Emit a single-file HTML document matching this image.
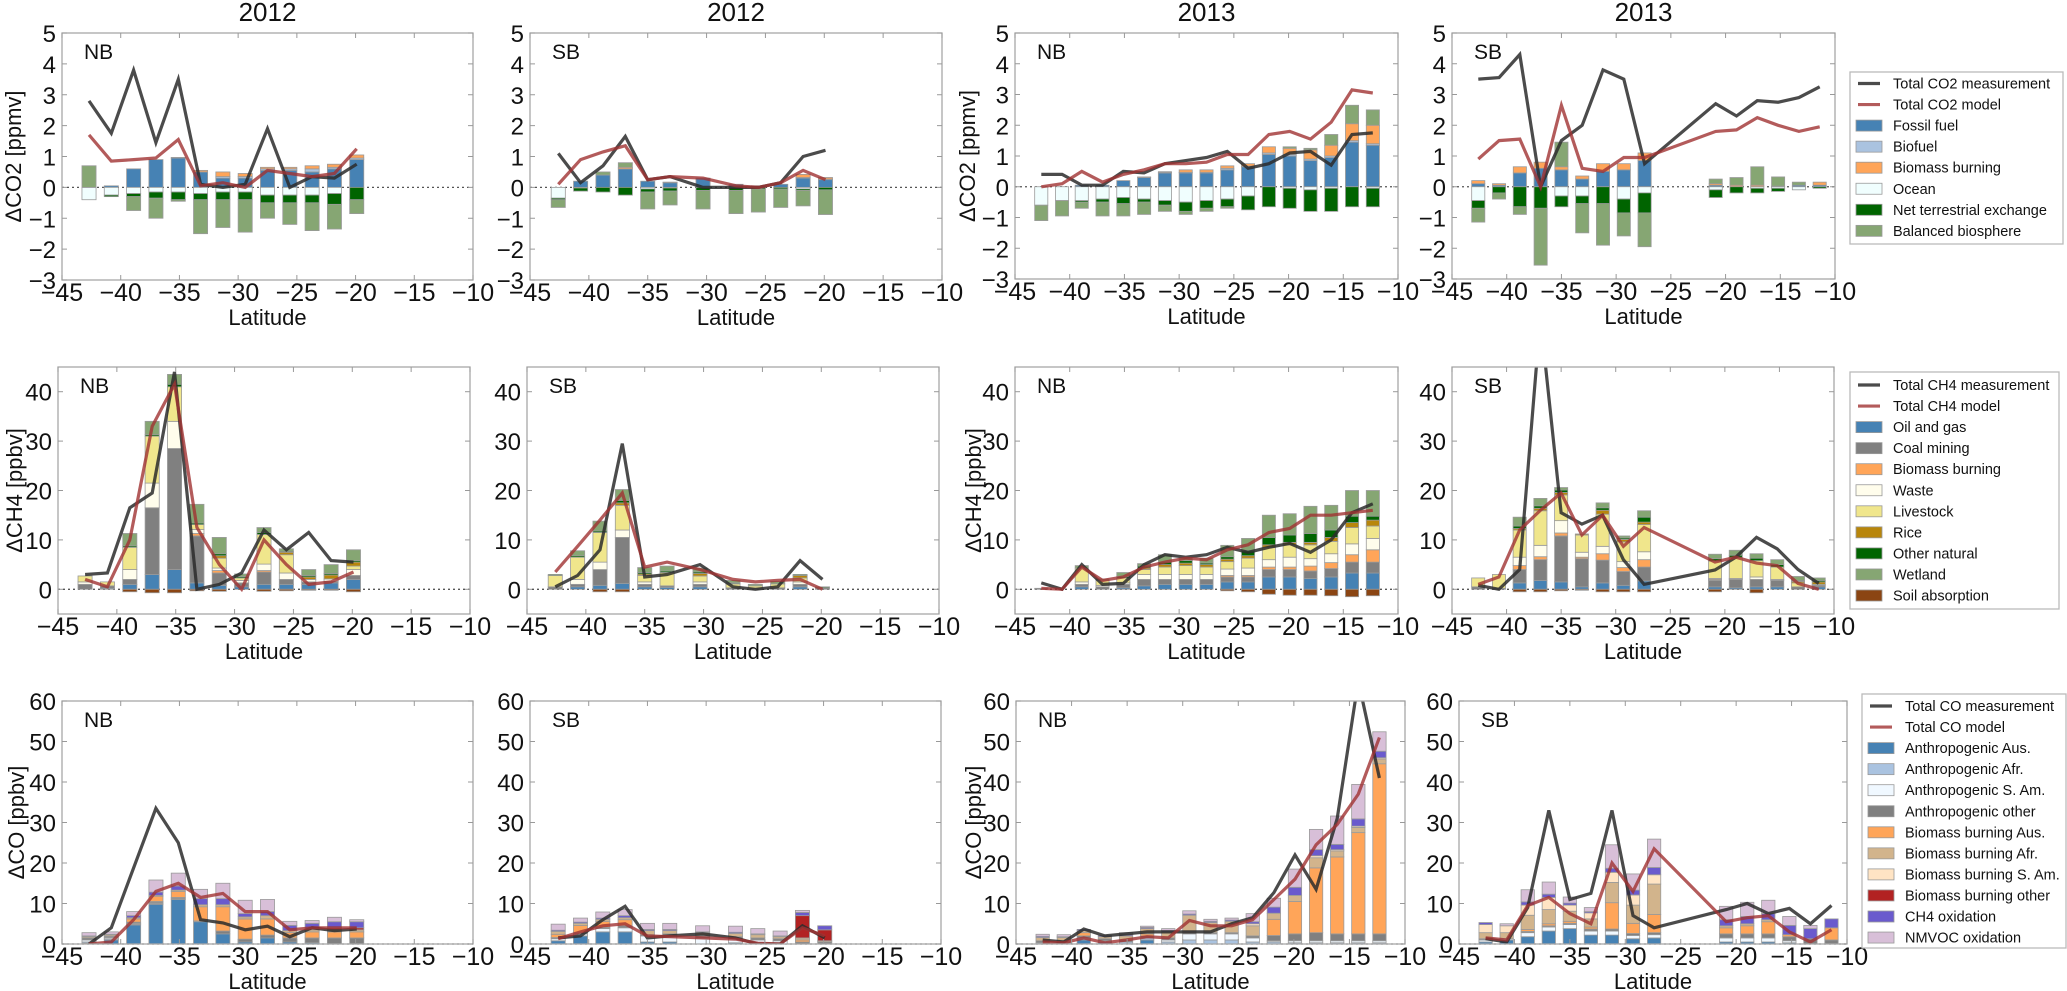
<!DOCTYPE html>
<html><head><meta charset="utf-8"><style>
html,body{margin:0;padding:0;background:#fff;}
svg{display:block;font-family:"Liberation Sans","DejaVu Sans",sans-serif;}
</style></head><body>
<svg id="fig" width="2067" height="991" viewBox="0 0 2067 991" xmlns="http://www.w3.org/2000/svg"></svg>
<script>
// ---- latitude bins ----
const latA = [-42.7,-40.8,-38.9,-37.0,-35.1,-33.2,-31.3,-29.4,-27.5,-25.6,-23.7,-21.8,-19.9];
const latB = [-42.6,-40.7,-38.8,-36.9,-35.0,-33.1,-30.3,-27.5,-25.6,-23.7,-21.8,-19.9];
const latC = [-42.6,-40.7,-38.9,-37.0,-35.1,-33.2,-31.3,-29.4,-27.5,-25.6,-23.7,-21.8,-19.9,-18.0,-16.1,-14.2,-12.3];
const latD = [-42.6,-40.7,-38.8,-36.9,-35.0,-33.1,-31.2,-29.3,-27.4,-20.9,-19.0,-17.1,-15.2,-13.3,-11.4];
const xTicks = [-45,-40,-35,-30,-25,-20,-15,-10];
const yTicksCO2 = [-3,-2,-1,0,1,2,3,4,5];
const yTicksCH4 = [0,10,20,30,40];
const yTicksCO = [0,10,20,30,40,50,60];

// ---- CO2 2012 NB ----
const co2a_meas = [2.8,1.75,3.8,1.45,3.5,0.1,0,0.1,1.9,0,0.35,0.3,0.75];
const co2a_model = [1.7,0.85,0.9,0.95,1.55,0.05,0.15,0,0.55,0.45,0.35,0.45,1.25];
const co2a_fossil = [0,0.05,0.6,0.9,0.95,0.5,0.3,0.3,0.55,0.55,0.5,0.6,0.9];
const co2a_biofuel = [0,0,0,0,0,0,0.05,0.05,0.05,0.05,0.1,0.05,0.05];
const co2a_biomass = [0,0,0,0,0.02,0.05,0.15,0.1,0.05,0.05,0.1,0.1,0.1];
const co2a_ocean = [-0.4,-0.25,-0.2,-0.15,-0.15,-0.2,-0.15,-0.15,-0.25,-0.25,-0.25,-0.2,0];
const co2a_nte = [0,-0.05,-0.1,-0.2,-0.25,-0.2,-0.25,-0.25,-0.25,-0.25,-0.25,-0.35,-0.4];
const co2a_bal = [0.7,0,-0.45,-0.65,-0.05,-1.1,-0.9,-1.05,-0.5,-0.7,-0.9,-0.8,-0.45];
// ---- CO2 2012 SB ----
const co2b_meas = [1.1,0.15,0.7,1.65,0.25,0.35,0,0,0,0.15,1.0,1.2];
const co2b_model = [0.1,0.9,1.15,1.35,0.25,0.35,0.3,0.05,0,0.15,0.55,0.25];
const co2b_fossil = [0,0.2,0.4,0.6,0.2,0.15,0.3,0.1,0.05,0.1,0.3,0.25];
const co2b_biofuel = [0,0,0,0,0,0,0,0,0,0,0.02,0.02];
const co2b_biomass = [0,0,0,0.05,0,0.02,0,0,0,0,0.1,0.05];
const co2b_ocean = [-0.35,-0.02,0,0,-0.05,-0.02,0,0,0,0,-0.05,0];
const co2b_nte = [-0.05,-0.1,-0.15,-0.25,-0.1,-0.1,-0.1,-0.1,-0.05,-0.05,-0.05,-0.08];
const co2b_bal = [-0.25,0,0.1,0.15,-0.55,-0.45,-0.6,-0.75,-0.75,-0.6,-0.5,-0.8];
// ---- CO2 2013 NB ----
const co2c_meas = [0.4,0.4,0.05,0.05,0.5,0.45,0.75,0.85,0.95,1.15,0.6,0.75,1.1,1.15,0.7,1.7,1.75];
const co2c_model = [0,0.1,0.5,0.15,0.4,0.55,0.75,0.75,0.8,1.05,1.05,1.7,1.8,1.55,2.1,3.15,3.05];
const co2c_fossil = [0,0,0.05,0.05,0.2,0.3,0.45,0.45,0.45,0.55,0.65,1.05,1.0,0.85,0.95,1.45,1.35];
const co2c_biofuel = [0,0,0,0,0,0.02,0.02,0.02,0.02,0.05,0.02,0.05,0.05,0.05,0.05,0.05,0.05];
const co2c_biomass = [0,0,0,0,0,0,0.02,0.08,0.08,0.08,0.08,0.2,0.2,0.3,0.35,0.55,0.6];
const co2c_ocean = [-0.6,-0.45,-0.45,-0.4,-0.35,-0.4,-0.45,-0.5,-0.45,-0.4,-0.3,0,-0.05,-0.1,-0.05,0,-0.05];
const co2c_nte = [0,0,-0.05,-0.1,-0.2,-0.1,-0.15,-0.3,-0.25,-0.25,-0.45,-0.65,-0.65,-0.7,-0.75,-0.65,-0.6];
const co2c_bal = [-0.5,-0.5,-0.2,-0.45,-0.4,-0.4,-0.2,-0.1,-0.1,-0.05,0,0,0.05,0.05,0.35,0.6,0.5];
// ---- CO2 2013 SB ----
const co2d_meas = [3.5,3.55,4.3,0,1.5,2.0,3.8,3.5,0.75,2.7,2.3,2.8,2.75,2.9,3.25];
const co2d_model = [0.9,1.5,1.55,0,2.65,0.6,0.5,0.95,0.95,1.8,1.85,2.25,2.0,1.8,1.95];
const co2d_fossil = [0.1,0.05,0.45,0.6,0.55,0.25,0.5,0.55,0.85,0.05,0,0,0,0.05,0.05];
const co2d_biofuel = [0,0,0,0,0,0,0,0,0,0,0,0,0,0,0];
const co2d_biomass = [0.1,0.05,0.2,0.2,0.1,0.1,0.25,0.2,0.25,0.05,0.05,0.05,0.02,0,0.1];
const co2d_ocean = [-0.45,0,0,0,-0.3,-0.3,0,-0.4,-0.2,-0.1,0,-0.05,-0.05,-0.1,0];
const co2d_nte = [-0.25,-0.2,-0.65,-0.7,-0.35,-0.25,-0.55,-0.45,-0.65,-0.25,-0.2,-0.15,-0.1,0,-0.05];
const co2d_bal = [-0.45,-0.2,-0.25,-1.85,0.8,-0.95,-1.35,-0.75,-1.1,0.15,0.25,0.6,0.3,0.1,0];

// ---- CH4 2012 NB ----
const ch4a_meas = [3,3.3,16.5,19.5,44,0,1,3.3,12,8,11.5,5.8,5.5];
const ch4a_model = [2,0.5,10,33,41.5,12.5,5,0,10,5,1,1.5,3.5];
const ch4a_oil = [0,0.2,1,3,4,1.3,0.8,0.5,1,1,1,1.3,2];
const ch4a_coal = [1,0.5,1,13.5,24.5,9.5,2.5,0.8,2.5,1,0.5,0.3,0.8];
const ch4a_bb = [0,0,0,0,0,0.5,0.5,0,0.3,0,0,0,0];
const ch4a_waste = [0.5,0,2,5,5.5,0.8,0.5,0.5,1.3,1.3,0.5,0.5,1.2];
const ch4a_live = [1.2,0.8,4.5,9.5,7,1,2,0.5,6,3.7,0,0,0.7];
const ch4a_rice = [0,0,0,0,0,0,0.5,0,0,0.5,0.5,0.8,0.8];
const ch4a_other = [0,0,0.3,0.3,0.5,0.3,0.4,0.3,0.4,0.2,0.3,0.3,0.3];
const ch4a_wet = [0,0,2.5,2.7,2,3.8,3.3,0.5,1,0.5,1.2,1.8,2.2];
const ch4a_soil = [0,0,-0.5,-0.7,-0.7,-0.3,-0.4,0,-0.4,-0.3,-0.2,-0.2,-0.5];
// ---- CH4 2012 SB ----
const ch4b_meas = [0.5,2.8,8,29.5,2.5,3,5,0.5,0,0.5,5.8,2];
const ch4b_model = [3.5,8.7,14,19.5,4.5,5.5,4,2,1.5,1.8,2,0];
const ch4b_oil = [0,0.5,0.8,1.2,0.5,0.4,0.5,0,0,0,0.5,0];
const ch4b_coal = [0.5,0.5,3.2,9.3,0.5,0.3,0.5,0.3,0.2,0.3,0.5,0.3];
const ch4b_bb = [0,0,0,0,0,0,0,0,0,0,0,0];
const ch4b_waste = [0,1,1.5,1.5,0.5,0,0.5,0,0,0,0.5,0];
const ch4b_live = [2.3,4.5,6,5,1.3,2.7,1.2,0.8,0.5,0.8,0.8,0];
const ch4b_rice = [0,0,0,0.5,0.3,0,0.5,0,0,0,0.5,0];
const ch4b_other = [0.2,0.3,0.3,0.5,0.3,0.3,0.3,0.2,0,0,0.2,0.2];
const ch4b_wet = [0,1,2,2.2,1,1,0.8,0.5,0.3,0.5,0,0];
const ch4b_soil = [0,0,-0.5,-0.5,0,0,0,0,0,0,0,0];
// ---- CH4 2013 NB ----
const ch4c_meas = [1.3,0,5,1,1.2,5,7,6.5,7,8.5,7.5,8.5,9.3,7.5,10,15.5,17.3];
const ch4c_model = [0.2,0,4.5,1.8,2.5,4.5,5.5,6.3,6,8,9,11.5,12.3,15,15,15.5,16];
const ch4c_oil = [0,0,0.5,0,0.3,0.7,1,1,1,1.5,1.5,2.5,2.5,2.2,2.5,3.3,3.3];
const ch4c_coal = [0.2,0,0.5,0.5,0.7,1.3,1,1,1,1,1,1.5,1.5,1.5,1.7,2.2,2.2];
const ch4c_bb = [0,0,0,0,0,0,0,0,0,0.3,0.3,0.5,0.5,1,1.2,1.5,2.5];
const ch4c_waste = [0,0,0.5,0.3,0.3,1,1,1,1,1.3,1.5,1.5,2,1.5,1.8,2.2,2.3];
const ch4c_live = [0,0,2.8,1,1,1,1.5,1.8,1.5,1.5,2,2.5,2.5,2.8,2.5,3.3,2.5];
const ch4c_rice = [0,0,0,0,0,0.3,0.5,0.5,0.5,0.5,0.5,0.5,0.5,0.5,0.8,1,1.2];
const ch4c_other = [0,0,0,0,0.3,0.4,0.5,0.5,0.3,0.5,1,1.5,1.5,1.8,1.5,1.3,0.8];
const ch4c_wet = [0,0,0.5,0.3,0.8,0.5,1.5,0.5,1,2.3,2.5,4.5,4.3,5.5,5,5.2,5.2];
const ch4c_soil = [0,0,0,0,0,0,0,0,0,-0.3,-0.5,-1,-1.2,-1.2,-1.3,-1.5,-1.3];
// ---- CH4 2013 SB ----
const ch4d_meas = [0.8,0,4,55,15.5,13.2,15,6,1,3.9,6.5,10.5,8.2,4,1.2];
const ch4d_model = [1,2.5,12,16,19.5,11,15,8.7,12.5,5.5,6.5,5.3,4.8,1.2,0];
const ch4d_oil = [0,0,1.3,1.8,1.5,0.5,1.3,0.8,1.7,0.5,0.3,0.5,0.5,0,0.5];
const ch4d_coal = [0.5,0.2,2.7,4.2,9.3,5.7,4.6,2.8,2.8,1.3,1.7,1.5,1.3,0.5,0.3];
const ch4d_bb = [0,0,0.8,0.6,0.6,0.3,1.3,0.8,1.5,0.2,0,0,0,0,0];
const ch4d_waste = [0,0,1.7,2.3,2.5,1,1.5,1.2,1.6,0.2,0.2,0.5,0.2,0,0];
const ch4d_live = [1.8,2.8,5.5,7,5.2,3.5,6.5,4,5.5,3.5,4.2,3.3,2.5,0.8,0.2];
const ch4d_rice = [0,0,0.3,0.5,0.5,0.2,0.8,0.5,0.5,0,0,0,0,0.3,0.5];
const ch4d_other = [0,0,0.5,0.5,0.5,0,0.5,0.3,1,0.5,0.5,0.5,0.5,0.2,0.3];
const ch4d_wet = [0,0,1.8,1.5,0.5,0,1,0.4,1.3,0.9,1,0.9,1,0.8,0.5];
const ch4d_soil = [0,0,-0.5,-0.5,-0.3,-0.2,-0.5,-0.5,-0.5,-0.5,0,-0.7,0,0,0];

// ---- CO 2012 NB ----
const coa_meas = [0,4,18.8,33.5,25,6,5.2,3.5,4.4,1.8,4,3.3,3.7];
const coa_model = [0,0.5,6,13,15,11.5,12.5,8,8,3.5,4,4,4];
const coa_aus = [0.2,1,4.7,9.8,11,5.5,2.5,0.5,1.5,0.5,0.3,0,0];
const coa_afr = [0.3,0.3,0.2,0.2,0,0,0,0,0,0,0,0,0];
const coa_sam = [0.5,0.3,0.2,0.2,0.2,0,0,0,0,0,0,0,0];
const coa_oth = [0.5,0.3,0.3,0.3,0.3,0.2,0.7,0.7,0.7,1,1.2,1.5,1.5];
const coa_bbaus = [0,0,0.8,1.3,1.5,3.5,6,5,4,1.3,1.5,1.5,1.5];
const coa_bbafr = [0.3,0.3,0.3,0.2,0.3,0.5,0.5,0.5,0.8,0.5,0.5,0.5,0.5];
const coa_bbsam = [0,0,0,0,0,0,0,0,0,0,0,0,0];
const coa_bboth = [0,0,0,0,0,0,0,0,0,0,0.3,0.5,0.5];
const coa_ch4 = [0.2,0.2,0.5,0.8,1,1.5,1.5,0.8,1,1.3,1.3,1.5,1.5];
const coa_nmvoc = [0.8,0.6,1,3,3.2,2.3,3.8,3.3,3,1,0.7,1.1,0.5];
// ---- CO 2012 SB ----
const cob_meas = [1.5,2,6,9.3,1.5,2,2.5,1.5,0,0,4.5,1.5];
const cob_model = [1.3,3,4.5,5,2,1.8,1.5,1.2,0.2,0,4,2];
const cob_aus = [0.8,2,3,3,0.5,0.5,0,0.3,0,0,0,0];
const cob_afr = [0,0,0,0,0,0,0,0,0,0,0,0];
const cob_sam = [0.5,0.5,0.8,1,1.5,1.5,1.5,1,1,0.8,0,0];
const cob_oth = [0.3,0.3,0.3,0.5,0.3,0.5,0.5,0.5,0.5,0.5,0.5,0.5];
const cob_bbaus = [0.8,1.8,1.5,1.5,0,0,0,0,0,0,0.5,0];
const cob_bbafr = [0.7,0.5,0.5,0.5,1,0.8,0.8,0.8,0.8,0.5,0.5,0.3];
const cob_bbsam = [0,0,0,0,0,0,0,0,0,0,0,0];
const cob_bboth = [0,0,0,0,0,0,0,0,0,0,5.5,2.7];
const cob_ch4 = [0.3,0.3,0.3,0.5,0.3,0.3,0.2,0.3,0.2,0.2,0.8,1];
const cob_nmvoc = [1.5,1,1.5,1.5,1.5,1.5,1.5,1.5,1.3,1.2,0.5,0];
// ---- CO 2013 NB ----
const coc_meas = [1,0.5,3.7,2,2.5,3,3,3,3,5,6.5,12.7,22,13.5,31,65,41];
const coc_model = [0.5,0.3,1.5,0.3,1,1.8,1.5,5.8,4.5,4.5,6,11,16,24.5,29.5,37,51];
const coc_aus = [0,0,1,0.5,0,1,0,0,0,0,0,0,0,0,0,0,0];
const coc_afr = [0.3,0.3,0.5,0.3,0.5,0.5,0.5,1,1,1,0.5,0.5,0.3,0.3,0.3,0.3,0.3];
const coc_sam = [0,0,0,0,0,0,0.5,1.5,1.5,1.5,1,0.3,0.5,0.5,0.5,0.5,0.5];
const coc_oth = [0.5,0.5,0.5,0.5,0.5,0.5,0.5,0.3,0.3,0.3,0.5,1.3,1.7,2,1.7,1.7,1.7];
const coc_bbaus = [0,0,0.8,0,0,0.5,0,0.3,0,0,0,4,8,16,19,25,42];
const coc_bbafr = [0.8,0.8,0.5,0.5,1,1.3,1.5,4,2.5,2.8,2.5,1.5,1.5,2.5,1.5,1.3,1.2];
const coc_bbsam = [0,0,0,0,0,0,0,0,0,0,0.5,0,0,0.5,0.3,0.3,0.3];
const coc_bboth = [0,0,0,0,0,0,0,0,0,0,0,0,0,0,0,0,0];
const coc_ch4 = [0.3,0.2,0.3,0.3,0.3,0.3,0.3,0.3,0.3,0.3,0.5,1.5,2,1.5,1.3,1.8,1.6];
const coc_nmvoc = [0.5,0.5,0,0,0.5,0.3,0.5,0.8,0.5,0.5,2,2.2,4.5,5,7,8.5,4.8];
// ---- CO 2013 SB ----
const cod_meas = [1.3,0.5,9,33,11,12.5,33,7,4,8.5,10,7.5,8.8,5,9.5];
const cod_model = [1.5,1,9.5,11.5,7.5,5,20,13,23.5,5.5,6.5,7,3,0.5,3.5];
const cod_aus = [0.5,1,1.8,3.2,3.8,2.2,2.2,1.3,1.5,0.5,0.5,0.5,0.3,0,0];
const cod_afr = [0,0,0,0,0,0,0,0,0,0,0,0,0,0,0];
const cod_sam = [0.5,0.3,1,1,1,1,1,0.8,0.8,1,1,1,0.5,0,0];
const cod_oth = [0.3,0,0.3,0.3,0.3,0.5,0.5,0.5,0.5,1,1,1,1,1.3,1];
const cod_bbaus = [0,0,0.5,0.5,0.5,0.5,6.5,2.5,4.5,1.5,2,3,0.5,0,3];
const cod_bbafr = [1.5,1.5,3.5,3.5,2.5,2,5,4.5,7.5,0.5,0.5,0.5,0,0,0];
const cod_bbsam = [2,1.7,2.5,3,1.5,1.5,2.5,2.5,2.3,0,0,0,0,0,0];
const cod_bboth = [0,0,0,0,0,0,0,0,0,0,0,0,0,0,0];
const cod_ch4 = [0.5,0,0.8,0.8,0.5,0.3,1,1.2,1.8,1.5,1.8,1.5,2.3,2.5,2.2];
const cod_nmvoc = [0,0.5,3,3,1.5,1,5.8,4,7,3.3,3.5,3.3,2.2,0.8,0];

// ---- legend names & colours ----
const co2Names = ["Fossil fuel","Biofuel","Biomass burning","Ocean","Net terrestrial exchange","Balanced biosphere"];
const co2Cols = ["#4682b4","#aac3e0","#ffa559","#f0fefe","#006400","#86a673"];
const ch4Names = ["Oil and gas","Coal mining","Biomass burning","Waste","Livestock","Rice","Other natural","Wetland","Soil absorption"];
const ch4Cols = ["#4682b4","#808080","#ffa559","#fffdec","#f0e68c","#b8860b","#006400","#86a673","#8b4513"];
const coNames = ["Anthropogenic Aus.","Anthropogenic Afr.","Anthropogenic S. Am.","Anthropogenic  other","Biomass burning Aus.","Biomass burning Afr.","Biomass burning S. Am.","Biomass burning  other","CH4 oxidation","NMVOC oxidation"];
const coCols = ["#4682b4","#aac3e0","#f0f8ff","#808080","#ffa559","#d2b48c","#ffe4c4","#b22222","#6a5acd","#d8bfd8"];

const NS = "http://www.w3.org/2000/svg";
const svg = document.getElementById("fig");
function mk(tag, attrs, parent){ const e=document.createElementNS(NS,tag); for(const k in attrs) e.setAttribute(k,attrs[k]); (parent||svg).appendChild(e); return e; }

const panels = [
 {name:"co2-2012-nb",L:62,R:473,T:33,B:280,ymin:-3,ymax:5,yt:yTicksCO2,lat:latA,meas:co2a_meas,model:co2a_model,comps:[co2a_fossil,co2a_biofuel,co2a_biomass,co2a_ocean,co2a_nte,co2a_bal],cols:co2Cols,tag:"NB",ylab:"ΔCO2 [ppmv]",labx:13,title:"2012"},
 {name:"co2-2012-sb",L:530,R:942,T:33,B:280,ymin:-3,ymax:5,yt:yTicksCO2,lat:latB,meas:co2b_meas,model:co2b_model,comps:[co2b_fossil,co2b_biofuel,co2b_biomass,co2b_ocean,co2b_nte,co2b_bal],cols:co2Cols,tag:"SB",title:"2012"},
 {name:"co2-2013-nb",L:1015,R:1398,T:33,B:279,ymin:-3,ymax:5,yt:yTicksCO2,lat:latC,meas:co2c_meas,model:co2c_model,comps:[co2c_fossil,co2c_biofuel,co2c_biomass,co2c_ocean,co2c_nte,co2c_bal],cols:co2Cols,tag:"NB",ylab:"ΔCO2 [ppmv]",labx:967,title:"2013"},
 {name:"co2-2013-sb",L:1452,R:1835,T:33,B:279,ymin:-3,ymax:5,yt:yTicksCO2,lat:latD,meas:co2d_meas,model:co2d_model,comps:[co2d_fossil,co2d_biofuel,co2d_biomass,co2d_ocean,co2d_nte,co2d_bal],cols:co2Cols,tag:"SB",title:"2013"},
 {name:"ch4-2012-nb",L:58,R:470,T:367,B:614,ymin:-5,ymax:45,yt:yTicksCH4,lat:latA,meas:ch4a_meas,model:ch4a_model,comps:[ch4a_oil,ch4a_coal,ch4a_bb,ch4a_waste,ch4a_live,ch4a_rice,ch4a_other,ch4a_wet,ch4a_soil],cols:ch4Cols,tag:"NB",ylab:"ΔCH4 [ppbv]",labx:14},
 {name:"ch4-2012-sb",L:527,R:939,T:367,B:614,ymin:-5,ymax:45,yt:yTicksCH4,lat:latB,meas:ch4b_meas,model:ch4b_model,comps:[ch4b_oil,ch4b_coal,ch4b_bb,ch4b_waste,ch4b_live,ch4b_rice,ch4b_other,ch4b_wet,ch4b_soil],cols:ch4Cols,tag:"SB"},
 {name:"ch4-2013-nb",L:1015,R:1398,T:367,B:614,ymin:-5,ymax:45,yt:yTicksCH4,lat:latC,meas:ch4c_meas,model:ch4c_model,comps:[ch4c_oil,ch4c_coal,ch4c_bb,ch4c_waste,ch4c_live,ch4c_rice,ch4c_other,ch4c_wet,ch4c_soil],cols:ch4Cols,tag:"NB",ylab:"ΔCH4 [ppbv]",labx:973},
 {name:"ch4-2013-sb",L:1452,R:1834,T:367,B:614,ymin:-5,ymax:45,yt:yTicksCH4,lat:latD,meas:ch4d_meas,model:ch4d_model,comps:[ch4d_oil,ch4d_coal,ch4d_bb,ch4d_waste,ch4d_live,ch4d_rice,ch4d_other,ch4d_wet,ch4d_soil],cols:ch4Cols,tag:"SB"},
 {name:"co-2012-nb",L:62,R:473,T:701,B:944,ymin:0,ymax:60,yt:yTicksCO,lat:latA,meas:coa_meas,model:coa_model,comps:[coa_aus,coa_afr,coa_sam,coa_oth,coa_bbaus,coa_bbafr,coa_bbsam,coa_bboth,coa_ch4,coa_nmvoc],cols:coCols,tag:"NB",ylab:"ΔCO [ppbv]",labx:16},
 {name:"co-2012-sb",L:530,R:941,T:701,B:944,ymin:0,ymax:60,yt:yTicksCO,lat:latB,meas:cob_meas,model:cob_model,comps:[cob_aus,cob_afr,cob_sam,cob_oth,cob_bbaus,cob_bbafr,cob_bbsam,cob_bboth,cob_ch4,cob_nmvoc],cols:coCols,tag:"SB"},
 {name:"co-2013-nb",L:1016,R:1405,T:701,B:944,ymin:0,ymax:60,yt:yTicksCO,lat:latC,meas:coc_meas,model:coc_model,comps:[coc_aus,coc_afr,coc_sam,coc_oth,coc_bbaus,coc_bbafr,coc_bbsam,coc_bboth,coc_ch4,coc_nmvoc],cols:coCols,tag:"NB",ylab:"ΔCO [ppbv]",labx:973},
 {name:"co-2013-sb",L:1459,R:1847,T:701,B:944,ymin:0,ymax:60,yt:yTicksCO,lat:latD,meas:cod_meas,model:cod_model,comps:[cod_aus,cod_afr,cod_sam,cod_oth,cod_bbaus,cod_bbafr,cod_bbsam,cod_bboth,cod_ch4,cod_nmvoc],cols:coCols,tag:"SB"}
];

const defs = mk("defs",{});
panels.forEach((p,pi)=>{
  const W=p.R-p.L, H=p.B-p.T;
  const xs = v => p.L + (v+45)/35*W;
  const ys = v => p.T + (p.ymax-v)/(p.ymax-p.ymin)*H;
  const g = mk("g",{});
  
  
  const cp = mk("clipPath",{id:"cp"+pi},defs);
  mk("rect",{x:p.L,y:p.T,width:W,height:H},cp);
  const z = mk("line",{x1:p.L,x2:p.R,y1:ys(0),y2:ys(0),stroke:"#555","stroke-width":1.3,"stroke-dasharray":"2,3"},g);
  
  
  const bw = 1.2/35*W;
  const bars = mk("g",{"clip-path":"url(#cp"+pi+")"},g);
  p.lat.forEach((lt,i)=>{
    let pos=0, neg=0;
    p.comps.forEach((arr,ci)=>{
      const v = arr[i]; if(!v) return;
      let y0,y1;
      if(v>0){ y0=pos; y1=pos+v; pos=y1; } else { y0=neg; y1=neg+v; neg=y1; }
      const top=ys(Math.max(y0,y1)), bot=ys(Math.min(y0,y1));
      const r = mk("rect",{x:xs(lt)-bw/2,y:top,width:bw,height:Math.max(bot-top,0.5),fill:p.cols[ci],stroke:"#9a9a9a","stroke-width":0.8},bars);
      
      
    });
  });
  const mline = (arr,col,op,name)=>{
    const d = arr.map((v,i)=>(i?"L":"M")+xs(p.lat[i]).toFixed(1)+","+ys(v).toFixed(1)).join(" ");
    const pa = mk("path",{d:d,fill:"none",stroke:col,"stroke-width":3.2,"stroke-opacity":op,"stroke-linejoin":"miter","clip-path":"url(#cp"+pi+")"},g);
    
    
  };
  mline(p.meas,"#2b2b2b",0.85,"measurement-line");
  mline(p.model,"#a03232",0.8,"model-line");
  const fr = mk("rect",{x:p.L,y:p.T,width:W,height:H,fill:"none",stroke:"#a8a8a8","stroke-width":1.3},g);
  
  
  xTicks.forEach(t=>{
    const x=xs(t);
    mk("line",{x1:x,x2:x,y1:p.B,y2:p.B-5,stroke:"#999","stroke-width":1},g);
    mk("line",{x1:x,x2:x,y1:p.T,y2:p.T+5,stroke:"#999","stroke-width":1},g);
    const tx = mk("text",{x:x,y:p.B+21,"font-size":25,"text-anchor":"middle",fill:"#111"},g);
    tx.textContent = "\u2212"+Math.abs(t);
    
    
  });
  p.yt.forEach(t=>{
    const y=ys(t);
    mk("line",{x1:p.L,x2:p.L+5,y1:y,y2:y,stroke:"#999","stroke-width":1},g);
    mk("line",{x1:p.R,x2:p.R-5,y1:y,y2:y,stroke:"#999","stroke-width":1},g);
    const ty = mk("text",{x:p.L-6,y:y+9,"font-size":24,"text-anchor":"end",fill:"#111"},g);
    ty.textContent = (t<0?"\u2212":"")+Math.abs(t);
    
    
  });
  const xl = mk("text",{x:(p.L+p.R)/2,y:p.B+45,"font-size":22,"text-anchor":"middle",fill:"#111"},g);
  xl.textContent="Latitude";
  
  
  const tg = mk("text",{x:p.L+22,y:p.T+26,"font-size":21,fill:"#111"},g);
  tg.textContent=p.tag;
  
  
  if(p.ylab){
    const cy=(p.T+p.B)/2;
    const yl = mk("text",{x:p.labx,y:cy,"font-size":22,"text-anchor":"middle",fill:"#111",transform:"rotate(-90 "+p.labx+" "+cy+") translate(0 8)"},g);
    yl.textContent=p.ylab;
    
    
  }
  if(p.title){
    const ti = mk("text",{x:(p.L+p.R)/2,y:21,"font-size":26,"text-anchor":"middle",fill:"#111"},g);
    ti.textContent=p.title;
    
    
  }
});

function legend(name,x0,y0,w,h,row0,hx,tx,lineNames,names,cols){
  const g = mk("g",{});
  
  
  mk("rect",{x:x0,y:y0,width:w,height:h,fill:"#fff",stroke:"#bbb","stroke-width":1.3},g);
  let y=row0;
  [["#2b2b2b",0.85],["#a03232",0.8]].forEach((c,i)=>{
    mk("line",{x1:hx+2,x2:hx+24,y1:y,y2:y,stroke:c[0],"stroke-opacity":c[1],"stroke-width":3.2},g);
    const t=mk("text",{x:tx,y:y+5,"font-size":14.5,fill:"#111"},g);
    t.textContent=lineNames[i];
    
    
    y+=21.05;
  });
  names.forEach((n,i)=>{
    mk("rect",{x:hx,y:y-5.5,width:26,height:11,fill:cols[i],stroke:"#9a9a9a","stroke-width":0.8},g);
    const t=mk("text",{x:tx,y:y+5,"font-size":14.5,fill:"#111"},g);
    t.textContent=n;
    
    
    y+=21.05;
  });
}
legend("co2-legend",1850,72,213,172,83.5,1856,1893,["Total CO2 measurement","Total CO2 model"],co2Names,co2Cols);
legend("ch4-legend",1850,372,209,237,385,1856,1893,["Total CH4 measurement","Total CH4 model"],ch4Names,ch4Cols);
legend("co-legend",1862,694,204,254,706,1868,1905,["Total CO measurement","Total CO model"],coNames,coCols);
</script>
</body></html>
